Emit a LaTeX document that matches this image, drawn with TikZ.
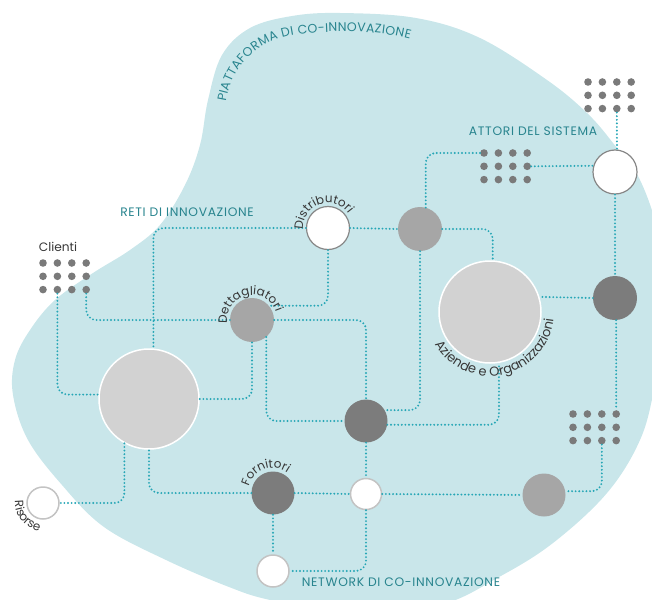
\documentclass[tikz,border=0pt]{standalone}
\usepackage{fontspec}
\setmainfont{Poppins}
\usetikzlibrary{decorations.text}
\definecolor{blobc}{RGB}{201,230,234}
\definecolor{linec}{RGB}{38,166,182}
\definecolor{tealt}{RGB}{40,132,142}
\definecolor{dotc}{RGB}{122,122,122}
\definecolor{lgray}{RGB}{210,210,210}
\definecolor{mgray}{RGB}{166,166,166}
\definecolor{dgray}{RGB}{124,124,124}
\definecolor{wstroke}{RGB}{135,135,135}
\definecolor{wstrokel}{RGB}{195,195,195}
\definecolor{labc}{RGB}{55,55,55}
\newcommand\arcfont{\fontsize{12}{14}\selectfont\color{labc}}
\newcommand\azfont{\fontsize{13}{15}\selectfont\color{labc}}
\newcommand\capfont{\fontsize{12.3}{14}\selectfont\addfontfeature{LetterSpace=5.5}}
\newcommand\dotgrid[3]{%
  \foreach \c in {1,...,4}{\foreach \r in {1,...,3}{%
    \node[dotn] (#1-\c-\r) at ({#2+(\c-1)*14.4},{-(#3+(\r-1)*13.3)}) {};}}}
\tikzset{
  conn/.style={linec, line width=2.1pt, line cap=round, dash pattern=on 0pt off 3.6pt, rounded corners=10pt},
  circ/.style={circle, inner sep=0pt, minimum size=#1},
  whitec/.style={circ=#1, fill=white, draw=wstroke, line width=1.2pt},
  whitel/.style={circ=#1, fill=white, draw=wstrokel, line width=1.5pt},
  bigc/.style={circ=#1, fill=lgray, draw=white, line width=1.5pt},
  midc/.style={circ=#1, fill=mgray},
  darkc/.style={circ=#1, fill=dgray},
  dotn/.style={circle, inner sep=0pt, minimum size=7.6pt, fill=dotc},
  caplab/.style={text=tealt, font=\capfont, inner sep=0pt},
  blacklab/.style={text=labc, font=\fontsize{12.2}{14}\selectfont, inner sep=0pt},
  arctext/.style={decorate, decoration={text along path, text align=center, text={|\arcfont|#1}}}
}
\begin{document}
\begin{tikzpicture}[x=1pt,y=1pt]
\useasboundingbox (0,0) rectangle (652,-599);
\begin{scope}
\clip (0,0) rectangle (652,-599);
\fill[blobc] plot[smooth cycle, tension=0.6] coordinates {
 (208,-100) (222,-55) (250,-28) (292,-16) (340,-13) (416,-18) (480,-38)
 (547,-80) (587,-113) (613,-143) (640,-180) (660,-240) (668,-310) (655,-385)
 (640,-440) (607,-493) (553,-543) (499,-577) (440,-605) (350,-615) (270,-600)
 (229,-587) (166,-560) (104,-527) (62,-485) (28,-440) (13,-395) (15,-360)
 (30,-330) (55,-300) (93,-273) (130,-250) (160,-225) (185,-185) (200,-145)};
\end{scope}

% dot grids
\dotgrid{clg}{43}{263}
\dotgrid{tg}{588}{82}
\dotgrid{ag}{484}{153}
\dotgrid{bg}{573}{414}

% circles
\node[whitec=43pt] (dist) at (328,-228) {};
\node[midc=44pt] (g1) at (420,-229) {};
\node[whitec=44pt] (att) at (615,-172) {};
\node[bigc=102pt] (az) at (490,-312) {};
\node[darkc=44pt] (dr) at (615,-298) {};
\node[bigc=100pt] (big) at (149,-399) {};
\node[midc=44pt] (dett) at (252,-320) {};
\node[darkc=43pt] (dm) at (366,-421) {};
\node[darkc=43pt] (forn) at (273,-493) {};
\node[whitel=31pt] (ws) at (366,-494) {};
\node[midc=43pt] (gr) at (544,-495) {};
\node[whitel=32pt] (ris) at (43,-503) {};
\node[whitel=32pt] (wb) at (273,-571) {};

% connectors
\draw[conn] (dist.east) -- (g1.west);
\draw[conn] (dist.west) -| (big.85);
\draw[conn] (dist.south) |- (dett.40);
\draw[conn] (g1.east) -| (az.87);
\draw[conn] (g1.75) |- (ag-1-1.west);
\draw[conn] (g1.south) |- (dm.30);
\draw[conn] (ag-4-2.east) -- (att.164);
\draw[conn] (tg-3-3.south) -- (att.85);
\draw[conn] (att.south) -- (dr.north);
\draw[conn] (dr.west) -- (az.17);
\draw[conn] (dr.273) -- (bg-4-1.north);
\draw[conn] (bg-3-3.south) |- (gr.10);
\draw[conn] (ws.east) -- (gr.west);
\draw[conn] (forn.east) -- (ws.west);
\draw[conn] (forn.west) -| (big.south);
\draw[conn] (big.241) |- (ris.east);
\draw[conn] (forn.south) -- (wb.north);
\draw[conn] (ws.south) |- (wb.east);
\draw[conn] (dm.south) -- (ws.north);
\draw[conn] (dett.east) -| (dm.north);
\draw[conn] (dett.-50) |- (dm.west);
\draw[conn] (dm.-10) -| (az.-80);
\draw[conn] (dett.west) -| (clg-4-3.south);
\draw[conn] (clg-2-3.south) |- (big.175);
\draw[conn] (big.east) -| (dett.south);

% labels
\node[caplab] (attl) at (533,-131) {ATTORI DEL SISTEMA};
\node[caplab] (retil) at (187,-212) {RETI DI INNOVAZIONE};
\node[caplab] (netl) at (401,-582) {NETWORK DI CO-INNOVAZIONE};
\node[blacklab] (clil) at (58,-247) {Clienti};

% curved labels
\path[arctext=Distributori] (dist.center) ++(200:25pt) arc[start angle=200, end angle=18, radius=25pt];
\path[arctext=Dettagliatori] (dett.center) ++(195:25pt) arc[start angle=195, end angle=11, radius=25pt];
\path[arctext=Fornitori] (forn.center) ++(190:25pt) arc[start angle=190, end angle=30, radius=25pt];
\path[decorate, decoration={text along path, text align=center, text={|\azfont|Aziende e Organizzazioni}}]
  (az.center) ++(190:64pt) arc[start angle=190, end angle=374, radius=64pt];
\path[arctext=Risorse] (ris.center) ++(160:28pt) arc[start angle=160, end angle=278, radius=28pt];
\path[decorate, decoration={text along path, text align=fit to path, text={|\fontsize{12.5}{14}\selectfont\color{tealt}|PIATTAFORMA DI CO-INNOVAZIONE}}]
  (226,-102) .. controls (232,-62) and (262,-38) .. (300,-34) .. controls (340,-30) and (380,-31) .. (410,-39);
\end{tikzpicture}
\end{document}
